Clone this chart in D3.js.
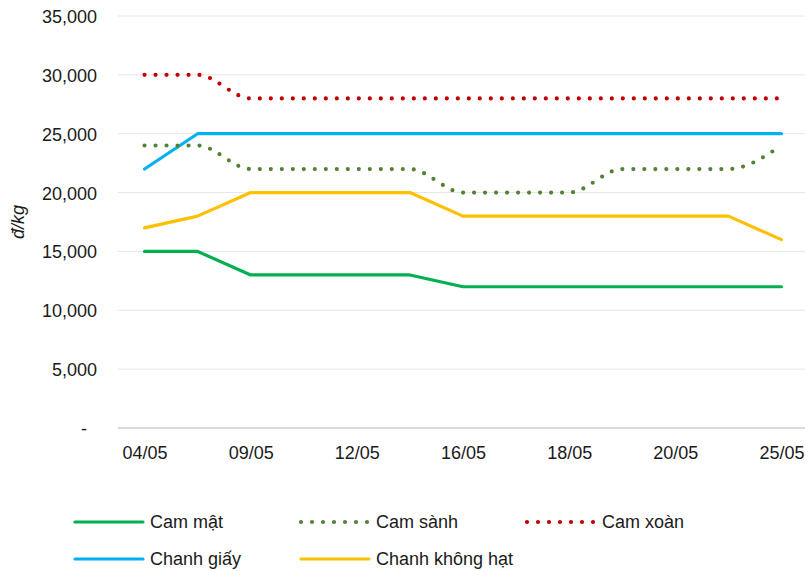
<!DOCTYPE html>
<html>
<head>
<meta charset="utf-8">
<script src="https://cdn.jsdelivr.net/npm/d3@7"></script>
<style>
  html, body { margin: 0; padding: 0; background: #fff; }
  svg { display: block; font-family: "Liberation Sans", Arial, sans-serif; }
</style>
</head>
<body>
<svg id="chart" width="805" height="571"></svg>
<script>
// Dates (every other one is labelled on the axis)
const dates = ["04/05", "06/05", "09/05", "11/05", "12/05", "13/05", "16/05",
               "17/05", "18/05", "19/05", "20/05", "23/05", "25/05"];
const shownDates = ["04/05", "09/05", "12/05", "16/05", "18/05", "20/05", "25/05"];

// Prices, đ/kg
const camMat       = [15000, 15000, 13000, 13000, 13000, 13000, 12000, 12000, 12000, 12000, 12000, 12000, 12000];
const camSanh      = [24000, 24000, 22000, 22000, 22000, 22000, 20000, 20000, 20000, 22000, 22000, 22000, 24000];
const camXoan      = [30000, 30000, 28000, 28000, 28000, 28000, 28000, 28000, 28000, 28000, 28000, 28000, 28000];
const chanhGiay    = [22000, 25000, 25000, 25000, 25000, 25000, 25000, 25000, 25000, 25000, 25000, 25000, 25000];
const chanhKhongHat = [17000, 18000, 20000, 20000, 20000, 20000, 18000, 18000, 18000, 18000, 18000, 18000, 16000];

const yTicks = [0, 5000, 10000, 15000, 20000, 25000, 30000, 35000];

const series = [
  { name: "Cam mật",         values: camMat,        color: "#00B050", dotted: false },
  { name: "Cam sành",        values: camSanh,       color: "#548235", dotted: true  },
  { name: "Cam xoàn",        values: camXoan,       color: "#C00000", dotted: true  },
  { name: "Chanh giấy",      values: chanhGiay,     color: "#00B0F0", dotted: false },
  { name: "Chanh không hạt", values: chanhKhongHat, color: "#FFC000", dotted: false }
];
// Draw order: back to front
const drawOrder = ["Chanh không hạt", "Cam mật", "Chanh giấy", "Cam sành", "Cam xoàn"];

const FONT = "Liberation Sans, Arial, sans-serif";
const svg = d3.select("#chart");
const plot = { left: 118, right: 808, top: 16, bottom: 428 };

const x = d3.scalePoint().domain(dates).range([plot.left, plot.right]).padding(0.5);
const y = d3.scaleLinear().domain([0, 35000]).range([plot.bottom, plot.top]);

// Horizontal gridlines
svg.append("g")
  .selectAll("line")
  .data(yTicks.filter(d => d > 0))
  .join("line")
  .attr("x1", plot.left).attr("x2", plot.right)
  .attr("y1", d => y(d)).attr("y2", d => y(d))
  .attr("stroke", "#e6e6e6").attr("stroke-width", 1);

// Y axis labels
const yAxis = d3.axisLeft(y)
  .tickValues(yTicks)
  .tickSize(0)
  .tickPadding(0)
  .tickFormat(d => d === 0 ? "-" : d3.format(",")(d));
const yg = svg.append("g").attr("transform", "translate(97,0)").call(yAxis);
yg.select(".domain").remove();
yg.selectAll("text")
  .attr("font-size", 18).attr("fill", "#1a1a1a")
  .attr("font-family", FONT)
  .attr("dy", "0.36em");
yg.selectAll(".tick").filter(d => d === 0).select("text").attr("dx", -10);

// X axis
const xAxis = d3.axisBottom(x).tickValues(shownDates).tickSize(0).tickPadding(0);
const xg = svg.append("g").attr("transform", `translate(0,${plot.bottom})`).call(xAxis);
xg.select(".domain").remove();
xg.selectAll("text")
  .attr("font-size", 18).attr("fill", "#1a1a1a")
  .attr("font-family", FONT)
  .attr("y", 31).attr("dy", 0);
svg.append("line")
  .attr("x1", plot.left).attr("x2", plot.right)
  .attr("y1", y(0)).attr("y2", y(0))
  .attr("stroke", "#d9d9d9").attr("stroke-width", 2);

// Y axis title
svg.append("text")
  .attr("transform", "translate(24,222) rotate(-90)")
  .attr("text-anchor", "middle")
  .attr("font-size", 18).attr("font-style", "italic").attr("fill", "#1a1a1a")
  .attr("font-family", FONT)
  .text("đ/kg");

// Lines
const straight = d3.line().x((d, i) => x(dates[i])).y(d => y(d));
const smooth = d3.line().x((d, i) => x(dates[i])).y(d => y(d)).curve(d3.curveMonotoneX);

function styleLine(sel, s) {
  sel.attr("fill", "none").attr("stroke", s.color).attr("stroke-linecap", "round");
  if (s.dotted) {
    sel.attr("stroke-width", 4.2).attr("stroke-dasharray", "0 11");
  } else {
    sel.attr("stroke-width", 3.2).attr("stroke-linejoin", "round");
  }
  return sel;
}

drawOrder.forEach(n => {
  const s = series.find(d => d.name === n);
  svg.append("path")
    .attr("d", (s.dotted ? smooth : straight)(s.values))
    .call(styleLine, s);
});

// Legend
const legendPos = [
  { x: 75,  y: 522 }, { x: 301, y: 522 }, { x: 527, y: 522 },
  { x: 75,  y: 559 }, { x: 301, y: 559 }
];
series.forEach((s, i) => {
  const p = legendPos[i];
  const g = svg.append("g");
  g.append("line")
    .attr("x1", p.x).attr("x2", p.x + (s.dotted ? 67 : 68))
    .attr("y1", p.y).attr("y2", p.y)
    .call(styleLine, s);
  g.append("text")
    .attr("x", p.x + 75).attr("y", p.y).attr("dy", "0.36em")
    .attr("font-size", 18).attr("fill", "#1a1a1a")
    .attr("font-family", FONT)
    .text(s.name);
});
</script>
</body>
</html>
